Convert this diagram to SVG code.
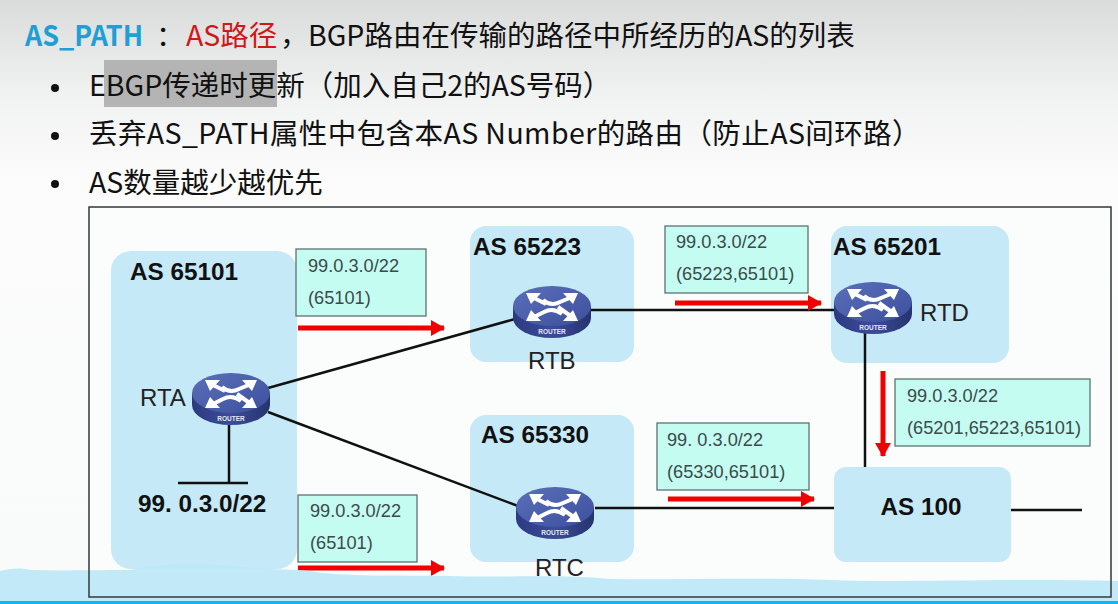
<svg xmlns="http://www.w3.org/2000/svg" width="1118" height="604" viewBox="0 0 1118 604">
<style>
.cjk{font-family:"Noto Sans CJK SC","Noto Sans",sans-serif;font-size:28.5px;fill:#111}
.as{fill:#c6e9f7}
.asl{font-family:"Liberation Sans",Arial,sans-serif;font-size:24.3px;font-weight:700;fill:#111}
.rl{font-family:"Liberation Sans",Arial,sans-serif;font-size:24px;fill:#222}
.box{fill:#c4fcf2;stroke:#5e7270;stroke-width:1.3}
.bt{font-family:"Liberation Sans",Arial,sans-serif;font-size:18.2px;fill:#3c4a4a}
.link{fill:none;stroke:#111;stroke-width:2.5}
.red{fill:none;stroke:#f00000;stroke-width:5;marker-end:url(#ah)}
.rt{font-family:"Liberation Sans",Arial,sans-serif;font-size:6.5px;font-weight:700;fill:#e4e8f4;text-anchor:middle}
.ra{fill:none;stroke:#fff;stroke-width:4}
</style>
<defs>
<linearGradient id="bg" x1="0" y1="0" x2="0" y2="1"><stop offset="0" stop-color="#dadcdc"/><stop offset="0.16" stop-color="#f1f2f2"/><stop offset="0.3" stop-color="#fbfcfb"/><stop offset="1" stop-color="#f8fbf9"/></linearGradient>
<linearGradient id="rtop" x1="0" y1="0" x2="1" y2="1"><stop offset="0" stop-color="#5a70b8"/><stop offset="1" stop-color="#3d4f9e"/></linearGradient>
<linearGradient id="rside" x1="0" y1="0" x2="1" y2="0"><stop offset="0" stop-color="#2b3a80"/><stop offset="0.5" stop-color="#3c4c98"/><stop offset="1" stop-color="#26336f"/></linearGradient>
<marker id="ah" markerUnits="userSpaceOnUse" markerWidth="14" markerHeight="16" refX="13" refY="8" orient="auto"><path d="M0 0L14 8L0 16Z" fill="#f00000"/></marker>
<g id="router">
<path d="M-39 -9V3A39 20 0 0 0 39 3V-9Z" fill="url(#rside)"/>
<ellipse cx="0" cy="-9" rx="39" ry="20" fill="url(#rtop)"/>
<path class="ra" d="M-6 -11L-20 -18"/>
<path d="M-26 -22L-11 -22L-21 -11Z" fill="#fff"/>
<path class="ra" d="M-9 -15Q-1 -8 8 -13L20 -18"/>
<path d="M26 -22L11 -22L21 -11Z" fill="#fff"/>
<path class="ra" d="M10 -1Q1 -8 -8 -3L-20 3"/>
<path d="M-26 6L-11 6L-21 -5Z" fill="#fff"/>
<path class="ra" d="M6 -8L20 2"/>
<path d="M26 6L11 6L21 -5Z" fill="#fff"/>
<text class="rt" x="0" y="19">ROUTER</text>
</g>
</defs>
<rect width="1118" height="604" fill="url(#bg)"/>
<rect x="104" y="60" width="173" height="47" fill="#b4b4b4"/>
<g id="heading">
<text class="cjk" x="25" y="46" font-weight="700" textLength="118" lengthAdjust="spacingAndGlyphs" style="fill:#1e9fd6">AS_PATH</text>
<text class="cjk" x="156" y="46">：</text>
<text class="cjk" x="186" y="46" style="fill:#d01818">AS路径</text>
<text class="cjk" x="280" y="46">，</text>
<text class="cjk" x="308" y="46">BGP路由在传输的路径中所经历的AS的列表</text>
</g>
<g id="bullets">
<circle cx="55" cy="88" r="4" fill="#111"/><circle cx="55" cy="136" r="4" fill="#111"/><circle cx="55" cy="184" r="4" fill="#111"/>
<text class="cjk" x="89" y="96">EBGP传递时更新（加入自己2的AS号码）</text>
<text class="cjk" x="89" y="144" letter-spacing="0.42">丢弃AS_PATH属性中包含本AS Number的路由（防止AS间环路）</text>
<text class="cjk" x="89" y="193">AS数量越少越优先</text>
</g>
<rect id="frame" x="89" y="207" width="1022" height="390" fill="#fafdfb"/>
<g id="as65101"><rect class="as" x="111" y="251" width="186" height="318" rx="20"/><text class="asl" x="130" y="280">AS 65101</text></g>
<g id="as65223"><rect class="as" x="470" y="226" width="164" height="136" rx="16"/><text class="asl" x="473" y="255">AS 65223</text></g>
<g id="as65201"><rect class="as" x="831" y="226" width="178" height="137" rx="16"/><text class="asl" x="833" y="255">AS 65201</text></g>
<g id="as65330"><rect class="as" x="470" y="415" width="164" height="147" rx="16"/><text class="asl" x="481" y="443">AS 65330</text></g>
<g id="connectors">
<path class="link" d="M268 388L515 319"/>
<path class="link" d="M268 412L518 506"/>
<path class="link" d="M590 310H840"/>
<path class="link" d="M595 508H834"/>
<path class="link" d="M865 330V467"/>
<path class="link" d="M1011 510H1082"/>
<path class="link" d="M229 425V483"/>
<path class="link" d="M178 483H248"/>
<path class="red" d="M298 328H444"/>
<path class="red" d="M298 568H444"/>
<path class="red" d="M675 303H821"/>
<path class="red" d="M668 499H814"/>
<path class="red" d="M883 371V456"/>
</g>
<g id="as100"><rect class="as" x="834" y="467" width="177" height="95" rx="12"/><text class="asl" x="921" y="515" text-anchor="middle">AS 100</text></g>
<g id="rta"><use href="#router" x="231" y="402"/><text class="rl" x="140" y="406">RTA</text></g>
<g id="rtb"><use href="#router" x="552" y="315"/><text class="rl" x="528" y="369">RTB</text></g>
<g id="rtc"><use href="#router" x="555" y="516"/></g>
<g id="rtd"><use href="#router" x="873" y="311"/><text class="rl" x="920" y="321">RTD</text></g>
<text id="net" class="asl" x="138" y="512">99. 0.3.0/22</text>
<g id="b1"><rect class="box" x="296" y="249" width="130" height="67"/><text class="bt" x="308" y="272">99.0.3.0/22</text><text class="bt" x="308" y="304">(65101)</text></g>
<g id="b2"><rect class="box" x="298" y="495" width="119" height="67"/><text class="bt" x="310" y="517">99.0.3.0/22</text><text class="bt" x="310" y="549">(65101)</text></g>
<g id="b3"><rect class="box" x="665" y="226" width="143" height="67"/><text class="bt" x="676" y="248">99.0.3.0/22</text><text class="bt" x="676" y="280">(65223,65101)</text></g>
<g id="b4"><rect class="box" x="657" y="423" width="152" height="67"/><text class="bt" x="667" y="446">99. 0.3.0/22</text><text class="bt" x="667" y="478">(65330,65101)</text></g>
<g id="b5"><rect class="box" x="895" y="379" width="195" height="67"/><text class="bt" x="907" y="402">99.0.3.0/22</text><text class="bt" x="907" y="434">(65201,65223,65101)</text></g>
<path id="wave" d="M0 571C10 569 18 567 30 570C60 571 90 570 130 570C150 565 190 562 230 566C270 570 290 569 310 571C340 577 400 575 450 576C500 578 560 574 610 579C680 580 760 577 830 580C900 583 1000 578 1118 581V604H0Z" fill="#bce7f6" fill-opacity="0.92"/>
<rect id="frame-line" x="89" y="207" width="1022" height="390" fill="none" stroke="#3e4444" stroke-width="1.6"/>
<text class="rl" x="535" y="576">RTC</text>
<rect id="bar" y="601" width="1118" height="3" fill="#0fb4ef"/>
</svg>
